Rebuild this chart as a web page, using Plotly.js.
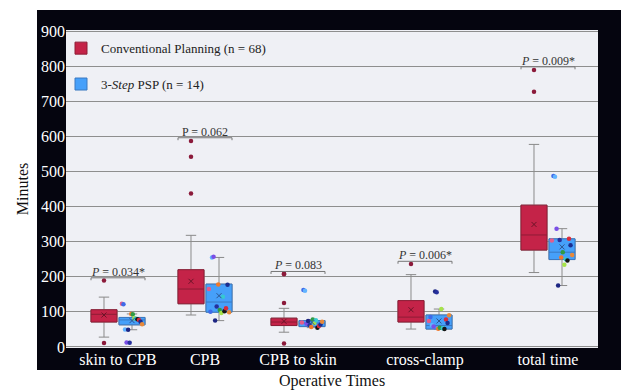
<!DOCTYPE html>
<html>
<head>
<meta charset="utf-8">
<script src="https://cdn.plot.ly/plotly-3.0.1.min.js"></script>
<style>html,body{margin:0;padding:0;background:#fff;}#chart{width:622px;height:390px;}</style>
</head>
<body>
<div id="chart"></div>
<script>
// ---- data ----
const categories = ['skin to CPB', 'CPB', 'CPB to skin', 'cross-clamp', 'total time'];

// Conventional Planning (n = 68) box statistics (minutes)
const convQ1     = [71, 123, 61, 71, 276];
const convMedian = [93, 165, 71, 85, 319];
const convQ3     = [106, 220, 82, 132, 404];
const convLow    = [28, 91, 42, 51, 212];
const convHigh   = [142, 318, 110, 206, 577];
const convMean   = [91, 187, 73, 106, 349];
// Conventional Planning outliers
const convOutCat = ['skin to CPB', 'skin to CPB', 'CPB', 'CPB', 'CPB', 'CPB to skin', 'CPB to skin', 'CPB to skin', 'CPB to skin', 'cross-clamp', 'total time', 'total time'];
const convOutVal = [189, 11, 587, 542, 437, 209, 207, 125, 10, 236, 789, 727];

// 3-Step PSP (n = 14) box statistics (minutes)
const pspQ1     = [63, 99, 58, 51, 249];
const pspMedian = [77, 128, 68, 61, 270];
const pspQ3     = [84, 179, 75, 91, 308];
const pspLow    = [49, 75, 55, 51, 175];
const pspHigh   = [94, 255, 78, 108, 337];
const pspMean   = [75, 146, 70, 74, 285];

// 3-Step PSP individual patients: [skin to CPB, CPB, CPB to skin, cross-clamp, total time]
const patients = [
  [123, 165, 70, 74, 303],
  [122, 100, 162, 85, 487],
  [50, 255, 160, 62, 485],
  [13, 257, 66, 58, 337],
  [49, 75, 74, 158, 175],
  [12, 115, 62, 156, 305],
  [94, 178, 57, 52, 255],
  [93, 105, 78, 55, 270],
  [82, 97, 68, 108, 234],
  [80, 143, 76, 53, 250],
  [79, 102, 55, 51, 246],
  [77, 110, 60, 78, 308],
  [72, 177, 64, 68, 290],
  [65, 99, 72, 90, 262]
];

// P values
const pTexts  = ['<i>P</i> = 0.034*', 'P = 0.062', '<i>P</i> = 0.083', '<i>P</i> = 0.006*', '<i>P</i> = 0.009*'];
const pLevels = [197, 596, 215, 244, 798];

// ---- layout / style ----
const catPos = [1, 1.87, 2.8, 4.07, 5.3];     // horizontal placement of category groups
const posOf = c => catPos[categories.indexOf(c)];
const X_RANGE = [0.48, 5.80];
const SHIFT = 0.14;
const SERIF = '"Liberation Serif", "DejaVu Serif", serif';

const patientColors = ['#e35d8c', '#3f6ae8', '#62b4ff', '#7a4fe6', '#1c2583', '#26309c', '#f0782a',
                       '#2f9a45', '#a6e34a', '#36c9d0', '#151515', '#d92b3a', '#1b2d8f', '#e8893a'];

const RED = '#c42348', RED_DARK = '#8e1c35';
const BLUE = '#46a0fa', BLUE_DARK = '#3b78c0';
const WHISK = '#8a8a8a';

const traces = [];
// whisker layers (gray)
traces.push({type: 'box', x: catPos, q1: convQ1, median: convMedian, q3: convQ3,
  lowerfence: convLow, upperfence: convHigh, offsetgroup: 'conv', fillcolor: 'rgba(0,0,0,0)',
  line: {color: WHISK, width: 1}, whiskerwidth: 0.4, showlegend: false, hoverinfo: 'skip'});
traces.push({type: 'box', x: catPos, q1: pspQ1, median: pspMedian, q3: pspQ3,
  lowerfence: pspLow, upperfence: pspHigh, offsetgroup: 'psp', fillcolor: 'rgba(0,0,0,0)',
  line: {color: WHISK, width: 1}, whiskerwidth: 0.4, showlegend: false, hoverinfo: 'skip'});
// filled boxes
traces.push({type: 'box', name: 'Conventional Planning (n = 68)', legendgroup: 'conv',
  x: catPos, q1: convQ1, median: convMedian, q3: convQ3, lowerfence: convQ1, upperfence: convQ3,
  offsetgroup: 'conv', fillcolor: RED, line: {color: RED_DARK, width: 1}, whiskerwidth: 0});
traces.push({type: 'box', name: '3-<i>Step</i> PSP (n = 14)', legendgroup: 'psp',
  x: catPos, q1: pspQ1, median: pspMedian, q3: pspQ3, lowerfence: pspQ1, upperfence: pspQ3,
  offsetgroup: 'psp', fillcolor: BLUE, line: {color: BLUE_DARK, width: 1}, whiskerwidth: 0});

// conventional outliers & means (x3 : centered on red boxes)
traces.push({type: 'scatter', mode: 'markers', xaxis: 'x3', x: convOutCat.map(posOf), y: convOutVal,
  offsetgroup: 'c', marker: {color: '#8b1a3a', size: 4.5}, showlegend: false, hoverinfo: 'y'});
traces.push({type: 'scatter', mode: 'markers', xaxis: 'x3', x: catPos, y: convMean, offsetgroup: 'c',
  marker: {symbol: 'x-thin-open', color: '#6e1428', size: 5, line: {width: 1, color: '#6e1428'}},
  showlegend: false, hoverinfo: 'y'});

// psp patients (x2 : grouped around blue boxes)
patients.forEach((vals, i) => {
  traces.push({type: 'scatter', mode: 'markers', xaxis: 'x2', x: catPos, y: vals,
    marker: {color: patientColors[i], size: 4.5}, showlegend: false, hoverinfo: 'y'});
});
// psp means (x4)
traces.push({type: 'scatter', mode: 'markers', xaxis: 'x4', x: catPos, y: pspMean,
  marker: {symbol: 'x-thin-open', color: '#2d5590', size: 5, line: {width: 1, color: '#2d5590'}},
  showlegend: false, hoverinfo: 'y'});

// plot area in px: x 66..598, y 30..348
const PW = 532, PH = 318;
const px2x = p => (p - 66) / PW;
const px2y = p => (348 - p) / PH;

const shapes = [
  {type: 'rect', xref: 'paper', yref: 'paper', x0: px2x(37), x1: px2x(621), y0: px2y(370), y1: px2y(10),
   fillcolor: '#05050f', line: {width: 0}, layer: 'below'},
  {type: 'rect', xref: 'paper', yref: 'paper', x0: 0, x1: 1, y0: 0, y1: 1,
   fillcolor: '#eff0f5', line: {width: 0}, layer: 'below'}
];
const annotations = [];
const HALF = 0.27, TICK = 7;
catPos.forEach((p, i) => {
  const b = pLevels[i];
  shapes.push({type: 'path', xref: 'x', yref: 'y',
    path: `M${p - HALF},${b - TICK} L${p - HALF},${b} L${p + HALF},${b} L${p + HALF},${b - TICK}`,
    line: {color: '#777', width: 1}, layer: 'above'});
  annotations.push({x: p, y: b, xref: 'x', yref: 'y', text: pTexts[i], showarrow: false,
    yanchor: 'bottom', yshift: -3, font: {family: SERIF, size: 12, color: '#333'}});
});

const hidden = r => ({overlaying: 'x', range: r, visible: false, fixedrange: true});

const layout = {
  width: 622, height: 390,
  margin: {l: 66, r: 24, t: 30, b: 42},
  paper_bgcolor: '#ffffff', plot_bgcolor: 'rgba(0,0,0,0)',
  font: {family: SERIF},
  boxmode: 'group', boxgap: 0.356, boxgroupgap: 0.071,
  scattermode: 'group', scattergap: 0.75,
  xaxis: {range: X_RANGE, tickmode: 'array', tickvals: catPos, ticktext: categories,
    tickfont: {family: SERIF, size: 16, color: '#ffffff'}, showgrid: false, zeroline: false,
    showline: false, ticks: '', fixedrange: true,
    title: {text: 'Operative Times', font: {family: SERIF, size: 16, color: '#111'}, standoff: 8}},
  xaxis2: hidden([X_RANGE[0] - SHIFT, X_RANGE[1] - SHIFT]),
  xaxis3: hidden([X_RANGE[0] + SHIFT, X_RANGE[1] + SHIFT]),
  xaxis4: hidden([X_RANGE[0] - SHIFT, X_RANGE[1] - SHIFT]),
  yaxis: {range: [-3, 903], dtick: 100, tick0: 0, showgrid: true, gridcolor: '#8e8e8e', gridwidth: 1,
    zeroline: false, showline: false, ticks: '', fixedrange: true,
    tickfont: {family: SERIF, size: 16, color: '#ffffff'},
    title: {text: 'Minutes', font: {family: SERIF, size: 16, color: '#111'}, standoff: 8}},
  legend: {x: px2x(61), y: 0.99, xanchor: 'left', yanchor: 'top', bgcolor: 'rgba(0,0,0,0)',
    font: {family: SERIF, size: 13, color: '#222'}, tracegroupgap: 16, itemwidth: 30},
  showlegend: true,
  shapes: shapes,
  annotations: annotations
};

Plotly.newPlot('chart', traces, layout, {displayModeBar: false, staticPlot: true});
</script>
</body>
</html>
